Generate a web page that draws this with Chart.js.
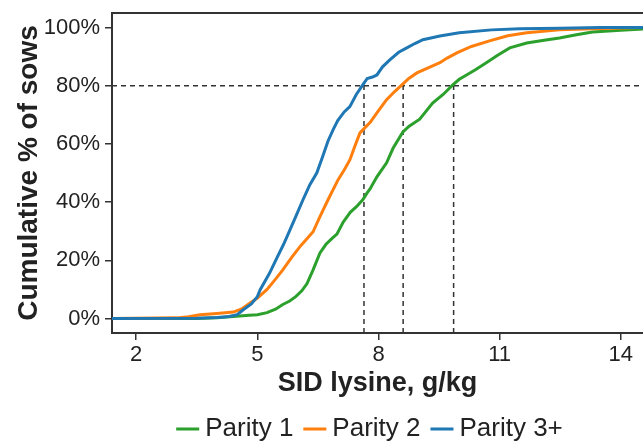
<!DOCTYPE html>
<html>
<head>
<meta charset="utf-8">
<script src="https://cdn.jsdelivr.net/npm/chart.js@4.4.0/dist/chart.umd.min.js"></script>
<style>
  html, body { margin: 0; padding: 0; background: #fff; }
  #wrap { width: 643px; height: 443px; }
</style>
</head>
<body>
<div id="wrap"><canvas id="chart" width="643" height="443"></canvas></div>
<script>
// cumulative distribution of SID lysine by parity
const seriesNames = ['Parity 1', 'Parity 2', 'Parity 3+'];
const seriesColors = ['#2ca02c', '#ff7f0e', '#1f77b4'];

const lysineP1 = [1.3, 3.5, 4.0, 4.4, 4.8, 5.0, 5.24, 5.45, 5.63, 5.8, 5.95, 6.1, 6.23, 6.38, 6.55, 6.7, 6.85, 6.97, 7.12, 7.3, 7.46, 7.61, 7.71, 7.79, 7.96, 8.2, 8.36, 8.6, 8.75, 9.02, 9.34, 9.6, 9.84, 10.0, 10.18, 10.4, 10.67, 10.95, 11.25, 11.67, 12.1, 12.48, 12.9, 13.3, 14.0, 14.55, 15.0];
const cumP1 = [0, 0, 0.2, 0.7, 1.1, 1.3, 2, 3.2, 4.8, 6, 7.5, 9.5, 12, 16.7, 22.5, 25.5, 27.5, 29, 33, 36.5, 38.5, 40.8, 43, 44.5, 48.7, 53.5, 58.5, 64, 66, 68.5, 74, 77, 80.3, 82.2, 83.7, 85.5, 87.9, 90.5, 93, 94.7, 95.6, 96.4, 97.5, 98.5, 99.1, 99.5, 99.7];

const lysineP2 = [1.3, 3.0, 3.3, 3.58, 4.0, 4.4, 4.6, 4.82, 5.0, 5.24, 5.45, 5.63, 5.85, 6.05, 6.2, 6.38, 6.55, 6.75, 7.0, 7.15, 7.29, 7.4, 7.54, 7.66, 7.8, 7.96, 8.2, 8.4, 8.58, 8.75, 8.95, 9.2, 9.52, 9.7, 9.94, 10.3, 10.75, 11.2, 11.67, 12.48, 13.3, 14.5, 15.0];
const cumP2 = [0, 0.2, 0.6, 1.3, 1.7, 2.2, 3.2, 5.3, 7, 10, 13.5, 16.7, 21, 24.6, 27, 29.8, 35, 40.8, 47.7, 51, 54.5, 58.7, 63.8, 65.5, 67.5, 70.7, 75.2, 78, 80.3, 82.5, 84.4, 86, 87.9, 89.5, 91.3, 93.5, 95.4, 97.2, 98.2, 99.2, 99.6, 100, 100];

const lysineP3 = [1.3, 3.5, 4.0, 4.3, 4.5, 4.65, 4.85, 5.0, 5.07, 5.3, 5.49, 5.65, 5.81, 5.95, 6.13, 6.3, 6.47, 6.6, 6.75, 6.88, 6.99, 7.15, 7.29, 7.45, 7.61, 7.72, 7.85, 7.96, 8.1, 8.28, 8.5, 8.7, 8.9, 9.1, 9.52, 10.0, 10.8, 11.5, 12.5, 13.5, 15.0];
const cumP3 = [0, 0.1, 0.3, 0.7, 1.3, 3, 5, 7.5, 9.9, 15.5, 21, 25.5, 30.5, 35, 40.8, 46, 50, 55, 61, 65, 68, 71, 72.8, 77, 80.3, 82.5, 83, 83.7, 86.5, 88.9, 91.5, 93, 94.5, 95.8, 97.1, 98.2, 99.2, 99.6, 99.8, 100, 100];

// 80% reference and the lysine level where each parity reaches it
const refLevel = 80;
const refLysine = [9.86, 8.61, 7.64];

const xTicks = [2, 5, 8, 11, 14];
const yTicks = [0, 20, 40, 60, 80, 100];
const xRange = [1.4, 14.55];
const yRange = [-5, 105];

const AXIS = '#333333';
const TEXT = '#222222';
const FONT = "'Liberation Sans', Arial, sans-serif";

const toPoints = (xs, ys) => xs.map((x, i) => ({ x, y: ys[i] }));
const curves = [toPoints(lysineP1, cumP1), toPoints(lysineP2, cumP2), toPoints(lysineP3, cumP3)];

const datasets = curves.map((pts, i) => ({
  label: seriesNames[i],
  data: pts,
  borderColor: seriesColors[i],
  backgroundColor: seriesColors[i],
  borderWidth: 3,
  pointRadius: 0,
  tension: 0,
  order: 3 - i,
}));

const refStyle = {
  borderColor: AXIS,
  borderWidth: 1.5,
  borderDash: [5, 4],
  pointRadius: 0,
  isRef: true,
  order: 10,
};
datasets.push({ ...refStyle, label: 'ref', data: [{ x: xRange[0], y: refLevel }, { x: xRange[1], y: refLevel }] });
refLysine.forEach((v) => {
  datasets.push({ ...refStyle, label: 'ref', data: [{ x: v, y: yRange[0] }, { x: v, y: refLevel }] });
});

// top frame line of the plot
const frameTop = {
  id: 'frameTop',
  afterDraw(chart) {
    const { ctx, chartArea } = chart;
    ctx.save();
    ctx.strokeStyle = AXIS;
    ctx.lineWidth = 2;
    ctx.beginPath();
    ctx.moveTo(chartArea.left - 1, chartArea.top);
    ctx.lineTo(chartArea.right, chartArea.top);
    ctx.stroke();
    ctx.restore();
  },
};

// legend row: short line + label, tight spacing like the original
const lineLegend = {
  id: 'lineLegend',
  afterDraw(chart) {
    const { ctx, chartArea } = chart;
    const items = chart.data.datasets.filter((d) => !d.isRef);
    const lineW = 23;
    const gapText = 6;
    const gapItem = 10;
    const y = 429;
    ctx.save();
    ctx.font = `26px ${FONT}`;
    const widths = items.map((d) => lineW + gapText + ctx.measureText(d.label).width);
    const total = widths.reduce((a, b) => a + b, 0) + gapItem * (items.length - 1);
    let x = (chartArea.left + chartArea.right) / 2 - 8 - total / 2;
    items.forEach((d, i) => {
      ctx.fillStyle = d.borderColor;
      ctx.fillRect(x, y - 1.5, lineW, 3);
      ctx.fillStyle = TEXT;
      ctx.textBaseline = 'middle';
      ctx.textAlign = 'left';
      ctx.fillText(d.label, x + lineW + gapText, y);
      x += widths[i] + gapItem;
    });
    ctx.restore();
  },
};

new Chart(document.getElementById('chart'), {
  type: 'line',
  data: { datasets },
  plugins: [frameTop, lineLegend],
  options: {
    responsive: false,
    animation: false,
    layout: { padding: { top: 13, right: 0, left: 0, bottom: 0 } },
    plugins: {
      tooltip: { enabled: false },
      legend: { display: false },
    },
    scales: {
      x: {
        type: 'linear',
        min: xRange[0],
        max: xRange[1],
        afterBuildTicks: (s) => { s.ticks = xTicks.map((v) => ({ value: v })); },
        afterFit: (s) => {
          s.height = 110;
          s.paddingLeft = 0;
          s.paddingRight = 0;
        },
        grid: { display: true, drawOnChartArea: false, color: AXIS, lineWidth: 1.5, tickLength: 7 },
        border: { display: true, color: AXIS, width: 2 },
        ticks: { color: TEXT, font: { family: FONT, size: 22 }, padding: 2, maxRotation: 0 },
        title: {
          display: true,
          text: 'SID lysine, g/kg',
          color: TEXT,
          font: { family: FONT, size: 27, weight: 'bold' },
          padding: { top: 2, bottom: 43 },
        },
      },
      y: {
        type: 'linear',
        min: yRange[0],
        max: yRange[1],
        afterBuildTicks: (s) => { s.ticks = yTicks.map((v) => ({ value: v })); },
        afterFit: (s) => {
          s.width = 112;
          s.paddingTop = 0;
          s.paddingBottom = 0;
        },
        grid: { display: true, drawOnChartArea: false, color: AXIS, lineWidth: 1.5, tickLength: 7 },
        border: { display: true, color: AXIS, width: 2 },
        ticks: {
          color: TEXT,
          font: { family: FONT, size: 22 },
          padding: 5,
          callback: (v) => v + '%',
        },
        title: {
          display: true,
          text: 'Cumulative % of sows',
          color: TEXT,
          font: { family: FONT, size: 28, weight: 'bold' },
          padding: { top: 12, bottom: 0 },
        },
      },
    },
  },
});
</script>
</body>
</html>
